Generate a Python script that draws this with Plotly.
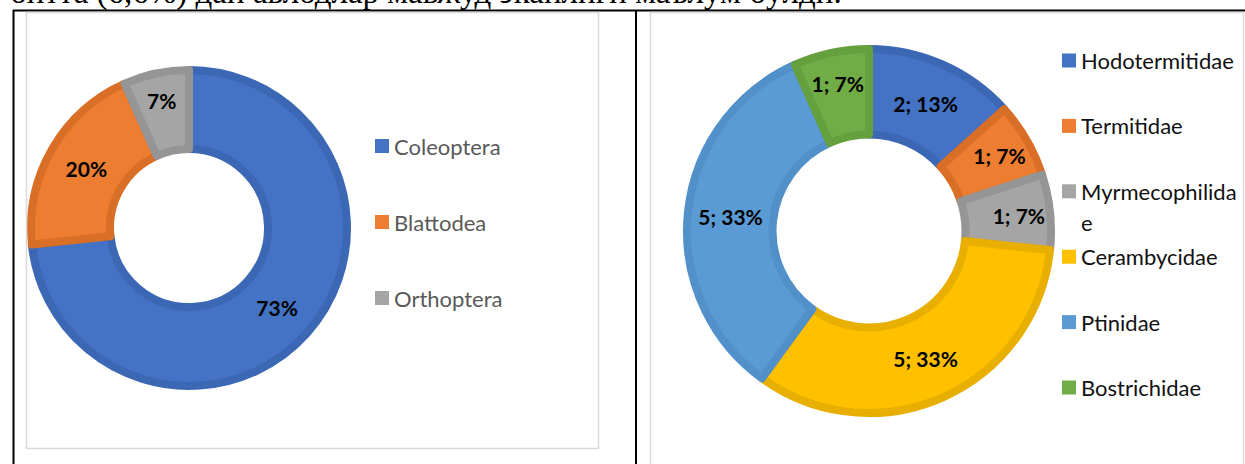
import plotly.graph_objects as go

W, H = 1245, 464

# Orders (left donut)
orders = ["Coleoptera", "Blattodea", "Orthoptera"]
order_counts = [11, 3, 1]
order_fill = ["#4472C4", "#ED7D31", "#A5A5A5"]
order_edge = ["#3C67B4", "#D96E27", "#959595"]

# Families (right donut)
families = ["Hodotermitidae", "Termitidae", "Myrmecophilidae",
            "Cerambycidae", "Ptinidae", "Bostrichidae"]
family_counts = [2, 1, 1, 5, 5, 1]
family_fill = ["#4472C4", "#ED7D31", "#A5A5A5", "#FFC000", "#5B9BD5", "#70AD47"]
family_edge = ["#3C67B4", "#D96E27", "#959595", "#E8AE00", "#5190C8", "#65A03E"]

caption = "битта (6,6%) дан авлодлар мавжуд эканлиги маълум бўлди."

LABEL_FONT = dict(family="Lato", size=21, color="#000000")


def px_x(x):
    return x / W


def px_y(y):
    return 1 - y / H


def domain(cx, cy, r):
    return dict(x=[px_x(cx - r), px_x(cx + r)], y=[px_y(cy + r), px_y(cy - r)])


fig = go.Figure()

fig.add_trace(go.Pie(
    labels=orders, values=order_counts,
    sort=False, direction="clockwise", rotation=0,
    hole=0.5,
    marker=dict(colors=order_fill, line=dict(color=order_edge, width=8)),
    texttemplate="<b>%{percent:.0%}</b>",
    textposition="inside", insidetextorientation="horizontal",
    textfont=LABEL_FONT,
    domain=domain(189, 228, 158),
    showlegend=False, hoverinfo="label+value+percent",
))

fig.add_trace(go.Pie(
    labels=families, values=family_counts,
    sort=False, direction="clockwise", rotation=0,
    hole=0.53,
    marker=dict(colors=family_fill, line=dict(color=family_edge, width=8)),
    texttemplate="<b>%{value}; %{percent:.0%}</b>",
    textposition="inside", insidetextorientation="horizontal",
    textfont=LABEL_FONT,
    domain=domain(869, 231, 182),
    showlegend=False, hoverinfo="label+value+percent",
))

shapes = []
annotations = []

# table rules and chart frames
black = dict(color="#000000", width=2)
grey = dict(color="#D9D9D9", width=1.5)
shapes += [
    dict(type="line", xref="paper", yref="paper", x0=px_x(13), x1=1, y0=px_y(10.5), y1=px_y(10.5), line=black),
    dict(type="line", xref="paper", yref="paper", x0=px_x(13.5), x1=px_x(13.5), y0=px_y(10), y1=0, line=black),
    dict(type="line", xref="paper", yref="paper", x0=px_x(636), x1=px_x(636), y0=px_y(10), y1=0, line=black),
    dict(type="rect", xref="paper", yref="paper", x0=px_x(26.5), x1=px_x(598.5), y0=px_y(448.5), y1=px_y(12.5), line=grey),
    dict(type="rect", xref="paper", yref="paper", x0=px_x(650.5), x1=px_x(1243.5), y0=px_y(480), y1=px_y(12.5), line=grey),
]


def legend(names, colors, x, y0, step, font_color, wrap=None, line_gap=31):
    y = y0
    for name, col in zip(names, colors):
        shapes.append(dict(type="rect", xref="paper", yref="paper",
                           x0=px_x(x), x1=px_x(x + 14), y0=px_y(y + 7), y1=px_y(y - 7),
                           line=dict(width=0), fillcolor=col))
        lines = [name] if not wrap or len(name) <= wrap else [name[:wrap], name[wrap:]]
        for k, part in enumerate(lines):
            annotations.append(dict(text=part, xref="paper", yref="paper",
                                    x=px_x(x + 17), y=px_y(y + k * line_gap),
                                    xanchor="left", yanchor="middle", showarrow=False,
                                    font=dict(family="Lato", size=22, color=font_color)))
        y += step


legend(orders, order_fill, 375, 146, 76, "#595959")
legend(families, family_fill, 1062, 60.5, 65.4, "#111111", wrap=14)

# running text of the page above the table (its upper half lies above the view)
annotations.append(dict(text=caption, xref="paper", yref="paper",
                        x=px_x(8), y=px_y(13), xanchor="left", yanchor="bottom",
                        showarrow=False,
                        font=dict(family="Liberation Serif", size=33, color="#000000")))

fig.update_layout(
    width=W, height=H,
    margin=dict(l=0, r=0, t=0, b=0),
    paper_bgcolor="#FFFFFF", plot_bgcolor="#FFFFFF",
    shapes=shapes, annotations=annotations,
)

fig.write_html("out.html")
